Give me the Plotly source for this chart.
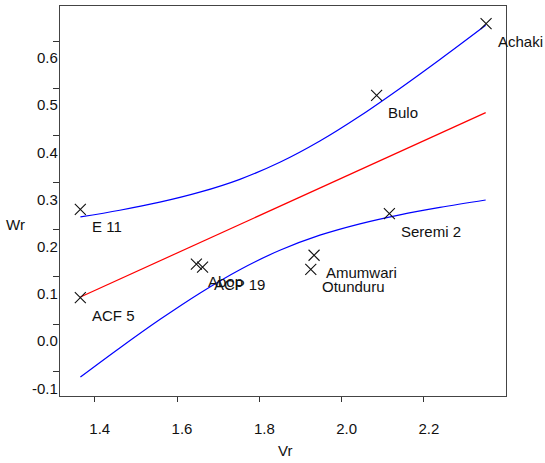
import plotly.graph_objects as go

# Data
names = ["E 11", "ACF 5", "Abop", "ACP 19", "Amumwari", "Otunduru", "Bulo", "Seremi 2", "Achaki"]
vr = [1.365, 1.365, 1.647, 1.662, 1.933, 1.925, 2.085, 2.116, 2.351]
wr = [0.243, 0.056, 0.127, 0.121, 0.146, 0.116, 0.485, 0.234, 0.637]

# Regression line
reg_x = [1.3652, 2.3500]
reg_y = [0.0575, 0.4483]

# Confidence limit curves
band_x = [1.3652, 1.4608, 1.5581, 1.6553, 1.7526, 1.8499, 1.9471, 2.0444, 2.1416, 2.2389, 2.3500]
upper_y = [0.2273, 0.2414, 0.2584, 0.2796, 0.3069, 0.3430, 0.3881, 0.4411, 0.4996, 0.5610, 0.6335]
lower_y = [-0.1122, -0.0506, 0.0096, 0.0656, 0.1154, 0.1565, 0.1885, 0.2126, 0.2317, 0.2474, 0.2631]

x_ticks = [1.4, 1.6, 1.8, 2.0, 2.2]
x_ticktext = ["1.4", "1.6", "1.8", "2.0", "2.2"]
y_ticks = [0.6, 0.5, 0.4, 0.3, 0.2, 0.1, 0.0, -0.1]
y_ticktext = ["0.6", "0.5", "0.4", "0.3", "0.2", "0.1", "0.0", "-0.1"]

FONT = "Arial, Liberation Sans, sans-serif"

fig = go.Figure()
fig.add_trace(go.Scatter(x=band_x, y=upper_y, mode="lines", line=dict(color="#0000ff", width=1.2, shape="spline"), hoverinfo="skip"))
fig.add_trace(go.Scatter(x=band_x, y=lower_y, mode="lines", line=dict(color="#0000ff", width=1.2, shape="spline"), hoverinfo="skip"))
fig.add_trace(go.Scatter(x=reg_x, y=reg_y, mode="lines", line=dict(color="#ff0000", width=1.2), hoverinfo="skip"))
fig.add_trace(go.Scatter(x=vr, y=wr, mode="markers",
                         marker=dict(symbol="x-thin", size=11, line=dict(color="#111111", width=1.1)),
                         text=names, hoverinfo="text"))

for n, x, y in zip(names, vr, wr):
    fig.add_annotation(x=x, y=y, text=n, showarrow=False, xanchor="left", yanchor="middle",
                       xshift=9.5, yshift=-17.5, font=dict(family=FONT, size=15, color="#111111"))

fig.add_annotation(xref="paper", yref="paper", x=-0.0998, y=0.4385, text="Wr", showarrow=False,
                   xanchor="center", yanchor="middle", font=dict(family=FONT, size=15, color="#111111"))
fig.add_annotation(xref="paper", yref="paper", x=0.5045, y=-0.1385, text="Vr", showarrow=False,
                   xanchor="center", yanchor="middle", font=dict(family=FONT, size=15, color="#111111"))

fig.update_layout(
    width=545, height=463,
    margin=dict(l=60, r=39, t=6, b=67),
    paper_bgcolor="white", plot_bgcolor="white",
    showlegend=False,
    font=dict(family=FONT, size=15, color="#111111"),
)
fig.update_xaxes(range=[1.3156, 2.3994], tickmode="array", tickvals=x_ticks, ticktext=x_ticktext,
                 ticks="outside", ticklen=5, tickcolor="#333333", tickwidth=1,
                 showline=True, mirror=True, linecolor="#444444", linewidth=1.2,
                 showgrid=False, zeroline=False, ticklabelshift=5, ticklabelstandoff=14,
                 tickfont=dict(family=FONT, size=15, color="#111111"))
fig.update_yaxes(range=[-0.1523, 0.6742], tickmode="array", tickvals=y_ticks, ticktext=y_ticktext,
                 ticks="outside", ticklen=6, tickcolor="#333333", tickwidth=1,
                 showline=True, mirror=True, linecolor="#444444", linewidth=1.2,
                 showgrid=False, zeroline=False, ticklabelshift=17, ticklabelstandoff=-8,
                 tickfont=dict(family=FONT, size=15, color="#111111"))

fig.write_html("out.html")
